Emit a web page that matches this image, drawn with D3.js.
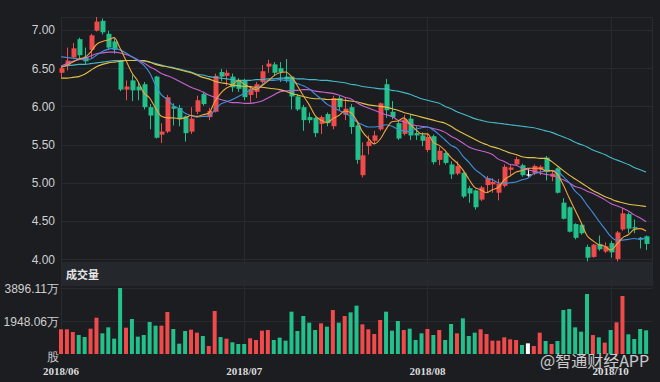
<!DOCTYPE html>
<html><head><meta charset="utf-8">
<script src="https://cdn.jsdelivr.net/npm/d3@7"></script>
<style>html,body{margin:0;padding:0;background:#1b1d21;overflow:hidden}</style>
</head><body><svg id="c" width="660" height="382"></svg>
<script>
const openP = [6.44,6.53,6.64,6.88,6.65,6.74,6.99,7.12,6.95,6.85,
6.60,6.22,6.34,6.26,6.29,5.99,6.39,5.63,5.67,6.00,
5.98,5.87,5.67,5.93,6.16,5.86,5.93,6.45,6.40,6.39,
6.34,6.34,6.15,6.19,6.32,6.52,6.55,6.50,6.39,6.39,
6.13,5.99,5.86,5.85,5.77,5.90,5.74,6.11,5.89,5.99,
5.75,5.10,5.48,5.55,5.70,6.29,5.93,5.78,5.64,5.84,
5.65,5.62,5.43,5.61,5.30,5.39,5.24,5.12,5.13,4.93,
4.90,4.78,4.97,4.98,4.87,4.96,5.17,5.24,5.23,5.11,
5.12,5.17,5.33,5.08,5.19,4.74,4.68,4.46,4.45,4.16,
4.03,4.20,4.10,4.21,4.00,4.39,4.59,4.42,4.28,4.30];
const closeP = [6.50,6.60,6.76,6.67,6.59,6.93,7.11,6.97,6.77,6.74,
6.22,6.26,6.21,6.21,5.99,5.88,5.59,5.67,6.12,5.97,
5.83,5.65,5.84,6.08,6.03,5.94,6.40,6.39,6.44,6.25,
6.23,6.12,6.23,6.29,6.46,6.56,6.44,6.45,6.35,6.13,
5.96,5.82,5.82,5.65,5.86,5.78,6.11,5.99,5.97,5.73,
5.30,5.36,5.54,5.62,6.04,5.95,5.86,5.58,5.83,5.62,
5.62,5.55,5.60,5.27,5.42,5.26,5.11,5.22,4.82,4.86,
4.68,4.94,5.06,5.01,4.99,5.21,5.20,5.31,5.10,5.11,
5.22,5.21,5.14,5.12,4.87,4.53,4.36,4.28,4.34,4.02,
4.19,4.13,4.17,4.09,4.35,4.60,4.40,4.40,4.26,4.20];
const highP = [6.52,6.77,6.83,6.90,6.77,6.95,7.17,7.15,6.99,6.89,
6.61,6.34,6.42,6.32,6.32,6.03,6.40,5.78,6.15,6.04,
6.02,5.88,5.99,6.14,6.19,5.98,6.43,6.49,6.48,6.43,
6.37,6.36,6.27,6.32,6.54,6.61,6.58,6.58,6.62,6.40,
6.16,6.02,5.92,5.86,5.88,5.92,6.14,6.14,6.11,6.03,
5.78,5.53,5.62,5.68,6.05,6.36,6.07,5.81,5.89,5.89,
5.74,5.66,5.64,5.63,5.47,5.41,5.28,5.28,5.14,4.96,
4.91,4.96,5.09,5.06,5.05,5.24,5.24,5.34,5.25,5.19,
5.24,5.23,5.35,5.16,5.20,4.80,4.69,4.47,4.47,4.19,
4.20,4.31,4.22,4.24,4.37,4.67,4.61,4.52,4.29,4.31];
const lowP = [6.38,6.47,6.62,6.63,6.55,6.63,6.98,6.94,6.74,6.69,
6.20,6.08,6.07,6.08,5.96,5.70,5.58,5.52,5.65,5.75,
5.74,5.54,5.64,5.90,6.01,5.82,5.92,6.33,6.27,6.19,
6.19,6.08,6.05,6.11,6.30,6.44,6.41,6.32,6.31,5.96,
5.94,5.68,5.78,5.60,5.64,5.74,5.70,5.95,5.82,5.64,
5.25,5.07,5.37,5.51,5.68,5.85,5.83,5.56,5.62,5.56,
5.56,5.48,5.40,5.24,5.23,5.24,5.05,5.10,4.80,4.74,
4.65,4.76,4.87,4.87,4.77,4.94,5.10,5.22,5.08,5.08,
5.10,5.10,5.03,5.02,4.86,4.52,4.35,4.26,4.32,3.97,
4.02,4.11,4.08,4.02,3.97,4.37,4.34,4.34,4.14,4.12];
const volume = [1458,1458,1299,1121,1003,1495,2143,1220,1574,905,
3896.11,1554,2066,1023,1121,1889,1672,1672,2479,1476,
610,1358,1436,1259,1062,472,2538,1000,905,690,
590,590,926,826,1377,1416,826,964,787,2497,
1358,2243,1849,1416,1810,1613,2597,1849,2243,2459,
2853,1751,1458,1180,2007,2497,1377,1948,1416,1495,
826,1220,1476,1121,1416,826,1771,1220,2105,1062,
1259,1458,1180,787,787,985,866,826,531,630,
472,1259,767,590,767,2597,2656,1574,1318,3542,
1121,985,669,1416,1869,3424,1161,885,1476,1397];
const ma5 = [6.51,6.54,6.58,6.62,6.64,6.71,6.81,6.85,6.87,6.90,
6.76,6.60,6.44,6.33,6.18,6.11,5.98,5.87,5.85,5.85,
5.84,5.85,5.88,5.87,5.89,5.91,6.06,6.17,6.24,6.28,
6.34,6.29,6.25,6.22,6.27,6.33,6.40,6.44,6.45,6.39,
6.27,6.14,6.02,5.88,5.82,5.79,5.84,5.88,5.94,5.92,
5.82,5.67,5.58,5.51,5.57,5.70,5.80,5.81,5.85,5.77,
5.70,5.64,5.64,5.53,5.49,5.42,5.33,5.26,5.17,5.05,
4.94,4.91,4.87,4.91,4.94,5.04,5.09,5.14,5.16,5.19,
5.19,5.19,5.16,5.16,5.11,4.97,4.80,4.64,4.48,4.31,
4.24,4.19,4.17,4.12,4.19,4.28,4.32,4.39,4.40,4.37];
const ma10 = [6.65,6.64,6.63,6.62,6.61,6.62,6.67,6.72,6.75,6.76,
6.74,6.70,6.65,6.60,6.54,6.44,6.28,6.15,6.09,6.01,
5.97,5.91,5.88,5.86,5.87,5.87,5.95,6.03,6.06,6.09,
6.13,6.17,6.21,6.23,6.28,6.34,6.34,6.35,6.34,6.33,
6.30,6.27,6.23,6.16,6.10,6.03,5.99,5.95,5.91,5.87,
5.80,5.76,5.73,5.73,5.74,5.76,5.74,5.70,5.68,5.67,
5.70,5.72,5.73,5.69,5.63,5.56,5.49,5.45,5.35,5.27,
5.18,5.12,5.06,5.04,5.00,4.99,5.00,5.01,5.04,5.06,
5.12,5.14,5.15,5.16,5.15,5.08,5.00,4.89,4.82,4.71,
4.61,4.50,4.40,4.30,4.25,4.25,4.26,4.27,4.26,4.28];
const ma20 = [6.53,6.56,6.59,6.61,6.63,6.66,6.69,6.70,6.71,6.71,
6.70,6.68,6.65,6.61,6.57,6.52,6.48,6.43,6.40,6.37,
6.33,6.29,6.25,6.22,6.19,6.15,6.12,6.09,6.07,6.05,
6.05,6.04,6.04,6.05,6.07,6.11,6.15,6.19,6.20,6.21,
6.21,6.22,6.22,6.20,6.19,6.18,6.17,6.15,6.12,6.10,
6.05,6.01,5.98,5.95,5.92,5.89,5.87,5.82,5.80,5.77,
5.75,5.74,5.73,5.71,5.69,5.66,5.61,5.57,5.52,5.47,
5.44,5.42,5.40,5.37,5.31,5.28,5.24,5.23,5.19,5.17,
5.15,5.13,5.11,5.10,5.07,5.04,5.00,4.95,4.93,4.89,
4.86,4.82,4.78,4.73,4.70,4.67,4.63,4.58,4.54,4.49];
const ma30 = [6.37,6.37,6.38,6.39,6.42,6.47,6.52,6.55,6.57,6.58,
6.59,6.60,6.60,6.60,6.60,6.58,6.55,6.53,6.52,6.50,
6.48,6.46,6.44,6.41,6.38,6.36,6.33,6.31,6.30,6.28,
6.27,6.26,6.26,6.25,6.25,6.24,6.23,6.22,6.20,6.17,
6.15,6.13,6.11,6.10,6.10,6.09,6.09,6.09,6.08,6.07,
6.06,6.04,6.02,6.01,6.00,5.99,5.97,5.95,5.92,5.90,
5.88,5.86,5.84,5.82,5.80,5.78,5.74,5.69,5.65,5.61,
5.57,5.53,5.50,5.47,5.45,5.42,5.39,5.37,5.34,5.33,
5.33,5.32,5.32,5.28,5.22,5.16,5.10,5.05,5.00,4.95,
4.90,4.86,4.82,4.79,4.76,4.74,4.72,4.71,4.70,4.69];
const ma60 = [6.52,6.53,6.54,6.55,6.55,6.56,6.57,6.58,6.59,6.60,
6.60,6.60,6.60,6.60,6.59,6.58,6.56,6.54,6.52,6.51,
6.49,6.47,6.45,6.42,6.41,6.39,6.38,6.37,6.36,6.35,
6.34,6.34,6.34,6.35,6.35,6.36,6.36,6.37,6.37,6.37,
6.36,6.36,6.35,6.35,6.34,6.34,6.33,6.32,6.31,6.29,
6.28,6.26,6.25,6.24,6.23,6.23,6.21,6.20,6.18,6.16,
6.13,6.10,6.08,6.06,6.04,6.00,5.97,5.93,5.90,5.87,
5.84,5.82,5.80,5.79,5.78,5.77,5.76,5.75,5.74,5.73,
5.72,5.70,5.68,5.66,5.63,5.60,5.57,5.53,5.50,5.47,
5.43,5.40,5.37,5.33,5.30,5.27,5.24,5.20,5.17,5.14];
const priceTicks = [4.0,4.5,5.0,5.5,6.0,6.5,7.0];
const priceTickLabels = ['4.00','4.50','5.00','5.50','6.00','6.50','7.00'];
const volTicks = [3896.11,1948.06];
const volTickLabels = ['3896.11万','1948.06万'];
const xTickIndex = [0,31,62,93];
const xTickLabels = ['2018/06','2018/07','2018/08','2018/10'];

const RED='#f04a4a', GREEN='#22c08b', GRID='#272a30';
const svg=d3.select('#c');
svg.append('rect').attr('width',660).attr('height',382).attr('fill','#1b1d21');
const n=closeP.length;
const x=d3.scaleLinear().domain([0,n-1]).range([61,646.1]);
const y=d3.scaleLinear().domain([4,7]).range([259.2,30]);
const yv=d3.scaleLinear().domain([0,3896.11]).range([354,288]);
const L=61,R=652;

// volume header band
svg.append('rect').attr('x',L).attr('y',262).attr('width',R-L).attr('height',24).attr('fill','#24272c');
svg.append('text').attr('x',66).attr('y',279).text('成交量')
  .attr('fill','#e6e6e6').attr('font-size',11).attr('font-weight','bold')
  .attr('font-family','"Noto Sans CJK SC",sans-serif');

// grid
const g=svg.append('g').attr('stroke',GRID).attr('stroke-width',1).attr('shape-rendering','crispEdges');
g.append('line').attr('x1',L).attr('x2',R).attr('y1',17.5).attr('y2',17.5);
priceTicks.forEach(t=>g.append('line').attr('x1',L).attr('x2',R).attr('y1',Math.round(y(t))+0.5).attr('y2',Math.round(y(t))+0.5));
volTicks.forEach(t=>g.append('line').attr('x1',L).attr('x2',R).attr('y1',Math.round(yv(t))+0.5).attr('y2',Math.round(yv(t))+0.5));
xTickIndex.forEach(i=>g.append('line').attr('x1',Math.round(x(i))+0.5).attr('x2',Math.round(x(i))+0.5).attr('y1',17).attr('y2',i===0?354:354));
g.append('line').attr('x1',R+0.5).attr('x2',R+0.5).attr('y1',17).attr('y2',286);

// axis labels
const lab=svg.append('g').attr('font-family','"Liberation Sans",Arial,sans-serif').attr('font-size',12).attr('fill','#cfcfcf');
priceTicks.forEach((t,k)=>lab.append('text').attr('x',55).attr('y',y(t)).attr('dy','0.36em').attr('text-anchor','end').text(priceTickLabels[k]));
volTicks.forEach((t,k)=>lab.append('text').attr('x',59).attr('y',yv(t)+1).attr('dy','0.36em').attr('text-anchor','end').text(volTickLabels[k]));
lab.append('text').attr('x',59).attr('y',357).attr('dy','0.36em').attr('text-anchor','end').text('股');
xTickIndex.forEach((i,k)=>svg.append('text').attr('x',x(i)).attr('y',374.5).attr('text-anchor','middle')
  .attr('font-family','"Liberation Serif",serif').attr('font-weight','bold').attr('font-size',11).attr('fill','#dcdcdc').text(xTickLabels[k]));

const col=i=>closeP[i]>openP[i]?RED:(closeP[i]<openP[i]?GREEN:'#ffffff');
const idx=d3.range(n);
// volume bars
svg.append('g').selectAll('rect').data(idx).join('rect')
  .attr('x',i=>x(i)-2).attr('width',4)
  .attr('y',i=>yv(volume[i])).attr('height',i=>354-yv(volume[i]))
  .attr('fill',col);
// candles
const cg=svg.append('g');
cg.selectAll('line').data(idx).join('line')
  .attr('x1',i=>Math.round(x(i))+0.5).attr('x2',i=>Math.round(x(i))+0.5)
  .attr('y1',i=>y(highP[i])).attr('y2',i=>y(lowP[i]))
  .attr('stroke',col).attr('stroke-width',1);
cg.selectAll('rect').data(idx).join('rect')
  .attr('x',i=>Math.round(x(i))-1.5).attr('width',5)
  .attr('y',i=>y(Math.max(openP[i],closeP[i])))
  .attr('height',i=>Math.max(1.2,Math.abs(y(openP[i])-y(closeP[i]))))
  .attr('fill',col);
// MA lines
const line=d3.line().x((d,i)=>x(i)).y(d=>y(d)).curve(d3.curveMonotoneX);
[[ma60,'#45b9c9'],[ma30,'#e3c146'],[ma20,'#c862cf'],[ma10,'#4190dd'],[ma5,'#f3a43c']].forEach(([d,c])=>
  svg.append('path').datum(d).attr('d',line).attr('fill','none').attr('stroke',c).attr('stroke-width',1.1));

// watermark
svg.append('text').attr('x',540).attr('y',367).text('@智通财经APP')
  .attr('font-family','"Noto Sans CJK SC",sans-serif').attr('font-size',16).attr('fill','#e8e8e8').attr('opacity',0.85);
</script></body></html>
